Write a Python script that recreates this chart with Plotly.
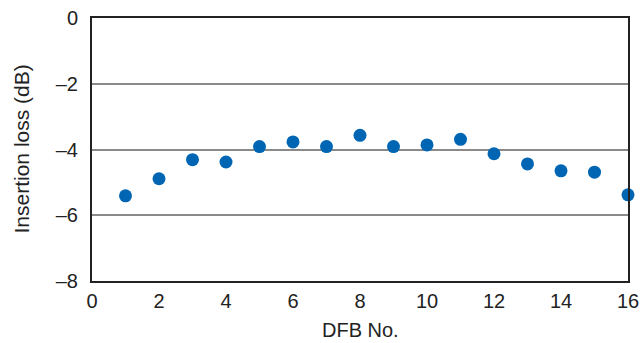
import plotly.graph_objects as go

dfb_no = list(range(1, 17))
insertion_loss = [-5.41, -4.89, -4.31, -4.38, -3.91, -3.77, -3.91, -3.57,
                  -3.91, -3.86, -3.69, -4.13, -4.44, -4.65, -4.69, -5.38]

x_ticks = [0, 2, 4, 6, 8, 10, 12, 14, 16]
y_ticks = [0, -2, -4, -6, -8]
y_tick_text = ["0", "–2", "–4", "–6", "–8"]

FONT = "Liberation Sans, Arial, Helvetica, sans-serif"
W, H = 640, 343
ML, MR, MT, MB = 92, 12, 18, 62
PW, PH = W - ML - MR, H - MT - MB

fig = go.Figure()
fig.add_trace(go.Scatter(
    x=dfb_no, y=insertion_loss, mode="markers",
    marker=dict(color="#0066B3", size=13, line=dict(width=0)),
    cliponaxis=False, showlegend=False,
))

fig.update_layout(
    width=W, height=H,
    margin=dict(l=ML, r=MR, t=MT, b=MB),
    paper_bgcolor="white", plot_bgcolor="white",
    font=dict(family=FONT, size=20, color="#222222"),
    xaxis=dict(
        range=[0, 16], tickvals=x_ticks, ticktext=[str(v) for v in x_ticks],
        showgrid=False, zeroline=False, showline=True, mirror=True,
        linecolor="#222222", linewidth=2, ticks="", ticklabelstandoff=1,
        automargin=False,
    ),
    yaxis=dict(
        range=[-8, 0], tickvals=y_ticks, ticktext=y_tick_text,
        showgrid=True, gridcolor="#8a8a8a", gridwidth=1.5,
        zeroline=False, showline=True, mirror=True,
        linecolor="#222222", linewidth=2, ticks="", ticklabelstandoff=8,
        automargin=False,
    ),
    annotations=[
        dict(text="DFB No.", xref="paper", yref="paper",
             x=0.5, y=-(343 - (H - MB)) / PH, xanchor="center", yanchor="bottom",
             showarrow=False, font=dict(size=20)),
        dict(text="Insertion loss (dB)", xref="paper", yref="paper",
             x=(21 - ML) / PW, y=0.5, xanchor="center", yanchor="middle",
             textangle=-90, showarrow=False, font=dict(size=21)),
    ],
)

fig.write_html("out.html")
